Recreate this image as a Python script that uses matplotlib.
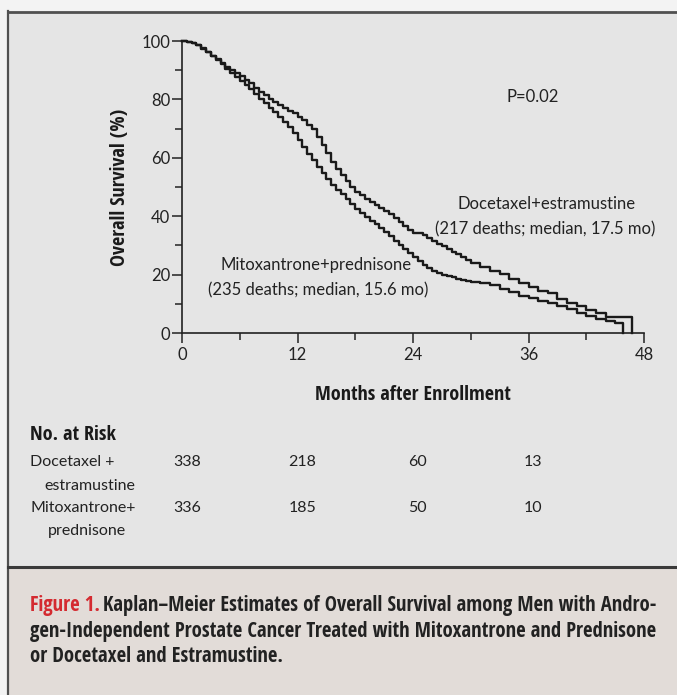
import matplotlib
matplotlib.use("Agg")
import matplotlib.pyplot as plt
from matplotlib.patches import Rectangle
from matplotlib.lines import Line2D
from matplotlib.transforms import blended_transform_factory

# ---- data -------------------------------------------------------------
# Kaplan-Meier step estimates (month, overall survival %)
doc_months = [0, 0.5, 1, 1.5, 2, 2.5, 3, 3.5, 4, 4.5, 5, 5.5, 6, 6.5, 7, 7.5,
              8, 8.5, 9, 9.5, 10, 10.5, 11, 11.5, 12, 12.5, 13, 13.5, 14, 14.5,
              15, 15.5, 16, 16.5, 17, 17.5, 18, 18.5, 19, 19.5, 20, 20.5, 21,
              21.5, 22, 22.5, 23, 23.5, 24, 24.5, 25, 25.5, 26, 26.5, 27, 27.5,
              28, 28.5, 29, 29.5, 30, 31, 32, 33, 34, 35, 36, 37, 38, 39, 40,
              41, 42, 43, 44, 46.8]
doc_surv = [100, 99.8, 99.3, 98.6, 97.6, 96.4, 95.0, 93.8, 92.5, 91.2, 90.0,
            89.0, 88.0, 86.8, 85.5, 84.0, 82.6, 81.4, 80.2, 79.2, 78.1, 77.2,
            76.1, 75.2, 74.1, 72.8, 71.4, 70.0, 67.2, 64.4, 61.6, 58.6, 56.0,
            54.0, 52.0, 50.0, 48.4, 47.2, 46.0, 44.9, 43.8, 42.9, 41.8, 40.6,
            39.3, 37.9, 36.6, 35.3, 34.1, 34.1, 33.4, 32.6, 31.6, 30.6, 29.7,
            28.7, 27.8, 26.9, 25.9, 25.0, 24.1, 22.6, 21.3, 20.2, 18.6, 17.0,
            15.6, 14.5, 13.6, 11.8, 10.3, 9.2, 7.8, 6.8, 5.5, 0]

mit_months = [0, 0.5, 1, 1.5, 2, 2.5, 3, 3.5, 4, 4.5, 5, 5.5, 6, 6.5, 7, 7.5,
              8, 8.5, 9, 9.5, 10, 10.5, 11, 11.5, 12, 12.5, 13, 13.5, 14, 14.5,
              15, 15.5, 16, 16.5, 17, 17.5, 18, 18.5, 19, 19.5, 20, 20.5, 21,
              21.5, 22, 22.5, 23, 23.5, 24, 24.5, 25, 25.5, 26, 26.5, 27, 27.5,
              28, 28.5, 29, 29.5, 30, 31, 32, 33, 34, 35, 36, 37, 38, 39, 40,
              41, 42, 43, 44, 45, 45.8]
mit_surv = [100, 99.8, 99.3, 98.5, 97.4, 96.1, 94.8, 93.4, 92.0, 90.5, 89.2,
            87.8, 86.4, 84.9, 83.4, 81.8, 80.1, 78.6, 77.0, 75.6, 74.1, 72.4,
            70.5, 68.4, 66.2, 63.8, 61.4, 59.1, 56.8, 54.8, 52.8, 50.6, 49.0,
            47.7, 46.0, 44.2, 42.5, 41.0, 39.6, 38.4, 37.2, 36.0, 34.6, 33.2,
            31.6, 30.0, 28.6, 27.3, 26.0, 24.7, 23.4, 22.3, 21.2, 20.4, 19.9,
            19.5, 19.1, 18.6, 18.1, 17.7, 17.4, 17.0, 16.3, 15.2, 14.1, 12.8,
            11.9, 11.1, 10.2, 9.2, 8.2, 7.0, 5.9, 4.8, 4.0, 3.5, 0]

risk_months = [0, 12, 24, 36]
risk_doc = [338, 218, 60, 13]
risk_mit = [336, 185, 50, 10]

x_ticks = [0, 12, 24, 36, 48]
y_ticks = [0, 20, 40, 60, 80, 100]

# ---- figure -----------------------------------------------------------
W, H = 677, 695
DPI = 100
BOLD_FAM = ["Open Sans Condensed", "Liberation Sans", "DejaVu Sans"]
REG_FAM = ["Lato", "Liberation Sans", "DejaVu Sans"]
plt.rcParams["font.family"] = BOLD_FAM

fig = plt.figure(figsize=(W / DPI, H / DPI), dpi=DPI, facecolor="#f3f3f3")


def fx(x):
    return x / W


def fy(y):
    return 1 - y / H


# panel backgrounds and frame (kept beneath the axes)
fig.patches.append(Rectangle((fx(8), fy(566)), 1 - fx(8), fy(12) - fy(566),
                             transform=fig.transFigure, facecolor="#e5e5e5",
                             edgecolor="none", zorder=-10))
fig.patches.append(Rectangle((fx(8), 0), 1 - fx(8), fy(567),
                             transform=fig.transFigure, facecolor="#e2dcd8",
                             edgecolor="none", zorder=-10))
for (x0, y0, x1, y1, lw, c) in [(8, 11.5, W, 11.5, 2.0, "#505050"),
                                (8, 11, 8, H, 1.6, "#505050"),
                                (8, 566.5, W, 566.5, 2.2, "#3a3a3a")]:
    fig.lines.append(Line2D([fx(x0), fx(x1)], [fy(y0), fy(y1)],
                            transform=fig.transFigure, color=c, lw=lw,
                            zorder=-5))

# ---- survival axes ----------------------------------------------------
ax = fig.add_axes([fx(182), fy(333), fx(644) - fx(182), fy(41) - fy(333)])
ax.set_facecolor("none")
ax.set_xlim(0, 48)
ax.set_ylim(0, 100)

ink = "#1a1a1a"
ax.plot(doc_months, doc_surv, drawstyle="steps-post", color=ink, lw=1.7,
        clip_on=False, zorder=3)
ax.plot(mit_months, mit_surv, drawstyle="steps-post", color=ink, lw=1.7,
        clip_on=False, zorder=3)

for s in ["top", "right"]:
    ax.spines[s].set_visible(False)
for s in ["left", "bottom"]:
    ax.spines[s].set_color("#222222")
    ax.spines[s].set_linewidth(1.2)

ax.set_xticks(x_ticks)
ax.set_yticks(y_ticks)
ax.set_xticks([6, 18, 30, 42], minor=True)
ax.set_yticks([10, 30, 50, 70, 90], minor=True)
ax.tick_params(which="major", length=7, width=1.1, color="#222222",
               labelsize=12, labelcolor="#222222", pad=1.5)
ax.tick_params(axis="x", which="major", pad=3)
ax.tick_params(which="minor", length=5, width=1.1, color="#222222")
for lab in ax.get_xticklabels() + ax.get_yticklabels():
    lab.set_family(REG_FAM)

ax.set_xlabel("Months after Enrollment", fontsize=14.5, fontweight="bold",
              color="#1a1a1a", labelpad=16)
ax.set_ylabel("Overall Survival (%)", fontsize=14.5, fontweight="bold",
              color="#1a1a1a", labelpad=8)

note = dict(color="#222222", ha="center", va="center", family=REG_FAM,
            fontsize=12)
ax.text(36.4, 80.8, "P=0.02", **note)
ax.text(37.9, 44.3, "Docetaxel+estramustine", **note)
ax.text(37.7, 35.6, "(217 deaths; median, 17.5 mo)", **note)
ax.text(13.9, 23.3, "Mitoxantrone+prednisone", **note)
ax.text(14.2, 14.7, "(235 deaths; median, 15.6 mo)", **note)

# ---- number at risk ---------------------------------------------------
txt = "#222222"
fig.text(fx(30), fy(435), "No. at Risk", fontsize=14.5, fontweight="bold",
         color="#1a1a1a", va="center")
row = dict(fontsize=11.5, color=txt, va="center", family=REG_FAM)
fig.text(fx(30), fy(462), "Docetaxel +", **row)
fig.text(fx(44), fy(486), "estramustine", **row)
fig.text(fx(30), fy(508), "Mitoxantrone+", **row)
fig.text(fx(48), fy(531), "prednisone", **row)

risk_tr = blended_transform_factory(ax.transData, fig.transFigure)
for m, d, r in zip(risk_months, risk_doc, risk_mit):
    ax.text(m + 0.5, fy(462), str(d), transform=risk_tr, ha="center", **row)
    ax.text(m + 0.5, fy(508), str(r), transform=risk_tr, ha="center", **row)

# ---- caption ----------------------------------------------------------
cap_size = 14.9
red = fig.text(fx(30), fy(606), "Figure 1.", fontsize=cap_size,
               fontweight="bold", color="#d42a30", va="center")
renderer = fig.canvas.get_renderer()
bb = red.get_window_extent(renderer=renderer)
fig.text(bb.x1 / W + fx(3), fy(606),
         "Kaplan\u2013Meier Estimates of Overall Survival among Men with Andro-",
         fontsize=cap_size, fontweight="bold", color="#222222", va="center")
fig.text(fx(30), fy(632),
         "gen-Independent Prostate Cancer Treated with Mitoxantrone and Prednisone",
         fontsize=cap_size, fontweight="bold", color="#222222", va="center")
fig.text(fx(30), fy(657), "or Docetaxel and Estramustine.",
         fontsize=cap_size, fontweight="bold", color="#222222", va="center")

fig.savefig("out.png", dpi=DPI, facecolor=fig.get_facecolor())
